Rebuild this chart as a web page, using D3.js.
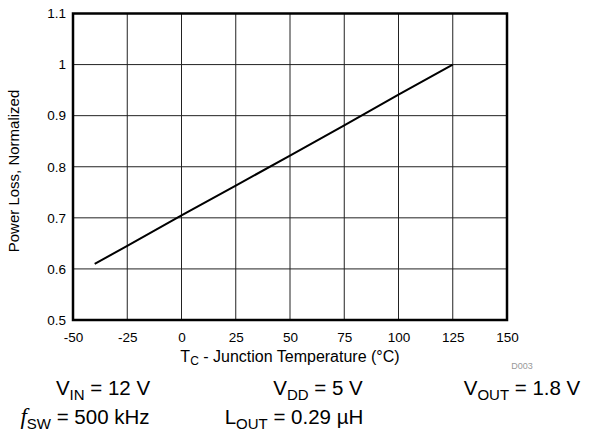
<!DOCTYPE html>
<html>
<head>
<meta charset="utf-8">
<script src="https://cdn.jsdelivr.net/npm/d3@7"></script>
<style>
  body { margin: 0; background: #fff; }
  text { font-family: "Liberation Sans", Arial, sans-serif; fill: #000; }
</style>
</head>
<body>
<svg id="graph-svg"></svg>
<script>
// junction temperature (°C) and normalized power loss
const temps = [-40, -25, 0, 25, 50, 75, 100, 125];
const loss = [0.61, 0.645, 0.705, 0.763, 0.822, 0.881, 0.941, 1.0];
const xTicks = [-50, -25, 0, 25, 50, 75, 100, 125, 150];
const yTicks = [0.5, 0.6, 0.7, 0.8, 0.9, 1, 1.1];

const margin = {top: 13.5, right: 88, bottom: 112, left: 73},
  width = 434,
  height = 306.5;

const svg = d3.select("#graph-svg")
  .attr("width", 595)
  .attr("height", 432);

const g = svg.append("g")
  .attr("transform", "translate(" + margin.left + "," + margin.top + ")");

const x = d3.scaleLinear().domain([-50, 150]).range([0, width]);
const y = d3.scaleLinear().domain([0.5, 1.1]).range([height, 0]);

// grid
g.selectAll(".vgrid")
  .data(xTicks)
  .enter().append("line")
  .attr("x1", d => x(d)).attr("x2", d => x(d))
  .attr("y1", 0).attr("y2", height)
  .attr("stroke", "#222").attr("stroke-width", 1);

g.selectAll(".hgrid")
  .data(yTicks)
  .enter().append("line")
  .attr("y1", d => y(d)).attr("y2", d => y(d))
  .attr("x1", 0).attr("x2", width)
  .attr("stroke", "#222").attr("stroke-width", 1);

// frame
g.append("rect")
  .attr("width", width).attr("height", height)
  .attr("fill", "none").attr("stroke", "#000").attr("stroke-width", 2.5);

// axes, labels only
const xAxis = g.append("g")
  .attr("transform", "translate(0," + height + ")")
  .call(d3.axisBottom(x).tickValues(xTicks).tickSize(0).tickPadding(12).tickFormat(d => String(d)));
xAxis.select(".domain").remove();
xAxis.selectAll("text").style("font-size", "13.5px").attr("fill", "#000");

const yAxis = g.append("g")
  .call(d3.axisLeft(y).tickValues(yTicks).tickSize(0).tickPadding(7).tickFormat(d => String(d)));
yAxis.select(".domain").remove();
yAxis.selectAll("text").style("font-size", "13.5px").attr("fill", "#000");

// line
const valueline = d3.line()
  .x((d, i) => x(temps[i]))
  .y(d => y(d));

g.append("path")
  .datum(loss)
  .attr("d", valueline)
  .attr("fill", "none")
  .attr("stroke", "#000")
  .attr("stroke-width", 2);

// axis titles
svg.append("text")
  .attr("transform", "translate(19,171) rotate(-90)")
  .attr("text-anchor", "middle")
  .style("font-size", "15px")
  .text("Power Loss, Normalized");

const xt = svg.append("text")
  .attr("x", margin.left + width / 2)
  .attr("y", 362)
  .attr("text-anchor", "middle")
  .style("font-size", "16px");
xt.append("tspan").text("T");
xt.append("tspan").attr("dy", 3).style("font-size", "12px").text("C");
xt.append("tspan").attr("dy", -3).text(" - Junction Temperature (°C)");

svg.append("text")
  .attr("x", 522).attr("y", 369)
  .attr("text-anchor", "middle")
  .style("font-size", "9px")
  .style("fill", "#999")
  .text("D003");

// conditions
function cond(cx, cy, main, sub, rest, italic) {
  const t = svg.append("text")
    .attr("x", cx).attr("y", cy)
    .attr("text-anchor", "middle")
    .style("font-size", "20.5px");
  const m = t.append("tspan").text(main);
  if (italic) m.style("font-style", "italic").style("font-family", "'Liberation Serif', serif").style("font-size", "23px");
  t.append("tspan").attr("dy", 5).style("font-size", "15px").text(sub);
  t.append("tspan").attr("dy", -5).text(rest);
}
cond(103, 395, "V", "IN", " = 12 V", false);
cond(318, 395, "V", "DD", " = 5 V", false);
cond(522, 395, "V", "OUT", " = 1.8 V", false);
cond(85, 424, "f", "SW", " = 500 kHz", true);
cond(294, 424, "L", "OUT", " = 0.29 µH", false);
</script>
</body>
</html>
